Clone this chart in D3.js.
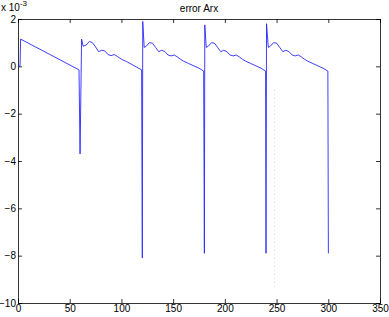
<!DOCTYPE html>
<html>
<head>
<meta charset="utf-8">
<script src="https://cdn.jsdelivr.net/npm/d3@7"></script>
<style>
  body { margin: 0; background: #fff; }
  text { font-family: "Liberation Sans", Arial, sans-serif; font-size: 10px; fill: #000; }
</style>
</head>
<body>
<svg id="chart" width="389" height="317"></svg>
<script>
// error values, in units of 1e-3
var xVals = [
  0, 2, 2.5, 30, 59, 60,
  61.5, 63, 66, 69, 72, 75, 78, 81, 84, 87, 90, 93, 96, 100, 105, 110, 115, 119.5, 120.2,
  120.6, 122, 124, 127, 130, 133, 136, 139, 142, 145, 148, 151, 154, 157, 160, 165, 170, 175, 179.5, 180.2,
  180.6, 182, 184, 187, 190, 193, 196, 199, 202, 205, 208, 211, 214, 217, 220, 225, 230, 235, 239.4, 239.8,
  240.3, 242, 244, 247, 250, 253, 256, 259, 262, 265, 268, 271, 274, 277, 280, 285, 290, 295, 299.6, 300.1
];
var yVals = [
  0, 0, 1.15, 0.52, -0.15, -3.7,
  1.15, 0.85, 0.9, 1.05, 1.0, 0.82, 0.62, 0.68, 0.65, 0.5, 0.45, 0.5, 0.42, 0.3, 0.2, 0.08, -0.04, -0.15, -8.1,
  1.9, 0.8, 0.85, 1.0, 0.98, 0.8, 0.62, 0.68, 0.62, 0.48, 0.44, 0.48, 0.4, 0.3, 0.22, 0.12, 0.02, -0.08, -0.2, -7.9,
  1.75, 0.8, 0.85, 1.0, 0.98, 0.8, 0.62, 0.68, 0.62, 0.48, 0.44, 0.48, 0.4, 0.3, 0.22, 0.12, 0.02, -0.08, -0.2, -7.9,
  1.8, 0.8, 0.85, 1.0, 0.98, 0.8, 0.62, 0.68, 0.62, 0.48, 0.44, 0.48, 0.4, 0.3, 0.22, 0.12, 0.02, -0.08, -0.2, -7.9
];
// faint dotted trace near x = 248
var faintX = [248, 248];
var faintY = [-1, -9.4];

var xTicks = [0, 50, 100, 150, 200, 250, 300, 350];
var yTicks = [-10, -8, -6, -4, -2, 0, 2];

var svg = d3.select("#chart");
var mLeft = 18, mRight = 380, mTop = 19, mBottom = 303;

var x = d3.scaleLinear().domain([0, 350]).range([mLeft, mRight]);
var y = d3.scaleLinear().domain([-10, 2]).range([mBottom, mTop]);

var tl = 4;
// axes with inward ticks on all sides
svg.append("g").attr("class", "xax").attr("transform", "translate(0," + mBottom + ")")
  .call(d3.axisBottom(x).tickValues(xTicks).tickSize(-tl).tickPadding(2));
svg.append("g").attr("transform", "translate(0," + mTop + ")")
  .call(d3.axisTop(x).tickValues(xTicks).tickSize(-tl).tickFormat(""));
svg.append("g").attr("class", "yax").attr("transform", "translate(" + mLeft + ",0)")
  .call(d3.axisLeft(y).tickValues(yTicks).tickSize(-tl).tickPadding(2));
svg.append("g").attr("transform", "translate(" + mRight + ",0)")
  .call(d3.axisRight(y).tickValues(yTicks).tickSize(-tl).tickFormat(""));

svg.selectAll(".domain").attr("stroke", "#000").attr("stroke-width", 0.8);
svg.selectAll(".tick line").attr("stroke", "#000").attr("stroke-width", 0.8);
svg.selectAll(".tick text").attr("fill", "#000")
  .attr("font-family", "Liberation Sans, Arial, sans-serif");
svg.selectAll(".xax .tick text").attr("font-size", "10.5px");
svg.selectAll(".yax .tick text").attr("font-size", "10px");

var line = d3.line().x(function(d) { return x(d[0]); }).y(function(d) { return y(d[1]); });

svg.append("path")
  .datum(faintX.map(function(v, i) { return [v, faintY[i]]; }))
  .attr("d", line)
  .attr("fill", "none")
  .attr("stroke", "#d8d8e4")
  .attr("stroke-width", 1)
  .attr("stroke-dasharray", "1,3");

svg.append("path")
  .datum(xVals.map(function(v, i) { return [v, yVals[i]]; }))
  .attr("d", line)
  .attr("fill", "none")
  .attr("stroke", "#2828ff")
  .attr("stroke-width", 0.9);

svg.append("text").attr("x", (mLeft + mRight) / 2).attr("y", 12)
  .attr("text-anchor", "middle").attr("font-size", "11px").text("error Arx");

var exp = svg.append("text").attr("x", 1).attr("y", 11).attr("font-size", "11px");
exp.append("tspan").text("x 10");
exp.append("tspan").attr("dy", -5).attr("font-size", "8px").text("-3");
</script>
</body>
</html>
